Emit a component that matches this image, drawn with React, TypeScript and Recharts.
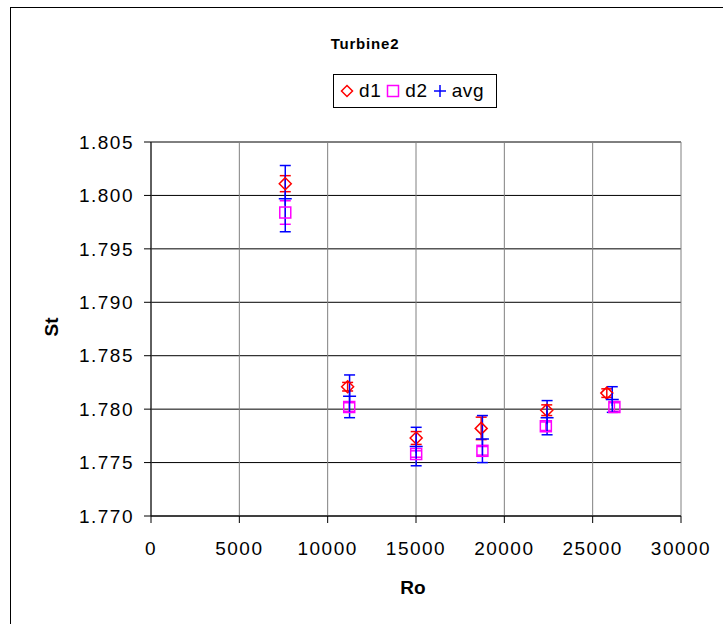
import React from 'react';
import { ScatterChart, Scatter, XAxis, YAxis, CartesianGrid, ErrorBar } from 'recharts';

const roD1 = [7600, 11130, 15010, 18690, 22400, 25800];
const stD1 = [1.8011, 1.7821, 1.7773, 1.7782, 1.7799, 1.7815];
const errD1 = [0.00075, 0.0004, 0.0006, 0.00105, 0.0005, 0.0004];

const roD2 = [7600, 11220, 15010, 18760, 22350, 26230];
const stD2 = [1.7984, 1.7802, 1.7758, 1.7761, 1.7784, 1.7802];
const errD2 = [0.0011, 0.0004, 0.0003, 0.0004, 0.0004, 0.0004];

const roAvg = [7600, 11240, 15010, 18760, 22420, 26110];
const stAvg = [1.7997, 1.7812, 1.7765, 1.7772, 1.7792, 1.7809];
const errAvg = [0.0031, 0.002, 0.0018, 0.0022, 0.0016, 0.0012];

const xTicks = [0, 5000, 10000, 15000, 20000, 25000, 30000];
const yTicks = [1.77, 1.775, 1.78, 1.785, 1.79, 1.795, 1.8, 1.805];

const chartTitle = 'Turbine2';
const xTitle = 'Ro';
const yTitle = 'St';

const rows = (xs: number[], ys: number[], es: number[]) =>
  xs.map((x, i) => ({ x, y: ys[i], err: es[i] }));

const dataD1 = rows(roD1, stD1, errD1);
const dataD2 = rows(roD2, stD2, errD2);
const dataAvg = rows(roAvg, stAvg, errAvg);

const RED = '#FF0000';
const MAG = '#FF00FF';
const BLUE = '#0000FF';
const FONT = '"Liberation Sans", Arial, sans-serif';

const Diamond = (p: any) => {
  const { cx, cy } = p;
  if (cx == null || cy == null) return <g />;
  const r = 6;
  return (
    <path
      d={`M${cx},${cy - r}L${cx + r},${cy}L${cx},${cy + r}L${cx - r},${cy}Z`}
      fill="none"
      stroke={RED}
      strokeWidth={1.5}
    />
  );
};

const Square = (p: any) => {
  const { cx, cy } = p;
  if (cx == null || cy == null) return <g />;
  const r = 5.5;
  return <rect x={cx - r} y={cy - r} width={2 * r} height={2 * r} fill="none" stroke={MAG} strokeWidth={1.5} />;
};

const Plus = (p: any) => {
  const { cx, cy } = p;
  if (cx == null || cy == null) return <g />;
  const r = 6.5;
  return (
    <path d={`M${cx - r},${cy}L${cx + r},${cy}M${cx},${cy - r}L${cx},${cy + r}`} stroke={BLUE} strokeWidth={1.5} />
  );
};

const legendItems = [
  { name: 'd1', kind: 'diamond', color: RED },
  { name: 'd2', kind: 'square', color: MAG },
  { name: 'avg', kind: 'plus', color: BLUE },
];

const LegendIcon = ({ kind, color }: { kind: string; color: string }) => (
  <svg width={14} height={14} style={{ display: 'block' }}>
    {kind === 'diamond' && <path d="M7,1.5L12.5,7L7,12.5L1.5,7Z" fill="none" stroke={color} strokeWidth={1.5} />}
    {kind === 'square' && <rect x={1.5} y={1.5} width={11} height={11} fill="none" stroke={color} strokeWidth={1.5} />}
    {kind === 'plus' && <path d="M1,7L13,7M7,1L7,13" stroke={color} strokeWidth={1.5} />}
  </svg>
);

const tickStyle = { fill: '#000', fontSize: 19, fontFamily: FONT, letterSpacing: 1.5 };

export default function App() {
  return (
    <div style={{ position: 'absolute', left: 0, top: 0, width: 723, height: 624, overflow: 'hidden', background: '#fff' }}>
      <div
        style={{
          position: 'absolute',
          left: 10,
          top: 7,
          width: 800,
          height: 700,
          border: '1px solid #000',
        }}
      />
      <div style={{ position: 'absolute', left: 0, top: 0 }}>
        <ScatterChart width={723} height={624} margin={{ top: 142, right: 42, bottom: 78, left: 0 }}>
          <CartesianGrid stroke="#000" horizontal={true} vertical={false} />
          <CartesianGrid stroke="#808080" horizontal={false} vertical={true} />
          <XAxis
            type="number"
            dataKey="x"
            domain={[0, 30000]}
            ticks={xTicks}
            interval={0}
            height={30}
            tickSize={7}
            tickMargin={19}
            stroke="#000"
            tick={tickStyle}
            allowDataOverflow
          />
          <YAxis
            type="number"
            dataKey="y"
            domain={[1.77, 1.805]}
            ticks={yTicks}
            interval={0}
            width={151}
            tickSize={7}
            tickMargin={10}
            stroke="#000"
            tick={tickStyle}
            tickFormatter={(v: number) => v.toFixed(3)}
            allowDataOverflow
          />
          <Scatter name="d1" data={dataD1} shape={Diamond} isAnimationActive={false}>
            <ErrorBar dataKey="err" direction="y" width={5.5} stroke={RED} strokeWidth={1.5} isAnimationActive={false} />
          </Scatter>
          <Scatter name="d2" data={dataD2} shape={Square} isAnimationActive={false}>
            <ErrorBar dataKey="err" direction="y" width={5.5} stroke={MAG} strokeWidth={1.5} isAnimationActive={false} />
          </Scatter>
          <Scatter name="avg" data={dataAvg} shape={Plus} isAnimationActive={false}>
            <ErrorBar dataKey="err" direction="y" width={5.5} stroke={BLUE} strokeWidth={1.5} isAnimationActive={false} />
          </Scatter>
        </ScatterChart>
      </div>
      <div
        style={{
          position: 'absolute',
          left: 265,
          top: 34,
          width: 200,
          textAlign: 'center',
          fontFamily: FONT,
          fontWeight: 'bold',
          fontSize: 15,
          letterSpacing: 0.8,
          lineHeight: '20px',
        }}
      >
        {chartTitle}
      </div>
      <div
        style={{
          position: 'absolute',
          left: 333,
          top: 74,
          width: 162,
          height: 32,
          border: '1px solid #000',
          display: 'flex',
          alignItems: 'center',
          fontFamily: FONT,
          fontSize: 19,
          boxSizing: 'content-box',
        }}
      >
        {legendItems.map((it, i) => (
          <div key={it.name} style={{ display: 'flex', alignItems: 'center', marginLeft: i === 0 ? 6 : 5 }}>
            <LegendIcon kind={it.kind} color={it.color} />
            <span style={{ marginLeft: 5, letterSpacing: 0.6 }}>{it.name}</span>
          </div>
        ))}
      </div>
      <div
        style={{
          position: 'absolute',
          left: 363,
          top: 576,
          width: 100,
          textAlign: 'center',
          fontFamily: FONT,
          fontWeight: 'bold',
          fontSize: 19,
          lineHeight: '24px',
        }}
      >
        {xTitle}
      </div>
      <div
        style={{
          position: 'absolute',
          left: 2,
          top: 315,
          width: 100,
          textAlign: 'center',
          fontFamily: FONT,
          fontWeight: 'bold',
          fontSize: 19,
          lineHeight: '24px',
          transform: 'rotate(-90deg)',
        }}
      >
        {yTitle}
      </div>
    </div>
  );
}
